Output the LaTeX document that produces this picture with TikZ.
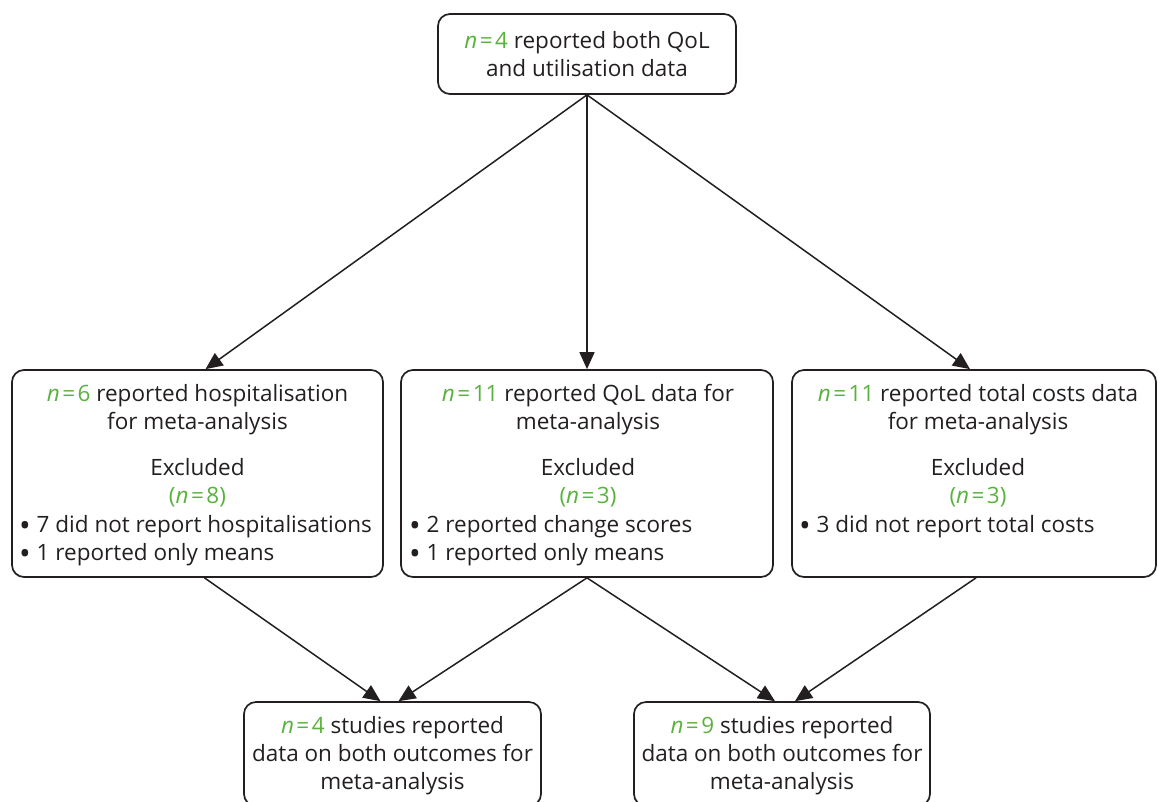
\documentclass[tikz,border=0pt]{standalone}
\usepackage{fontspec}
\setmainfont{Open Sans}
\usetikzlibrary{arrows.meta,calc}
\definecolor{ngreen}{RGB}{90,178,62}
\definecolor{txt}{RGB}{35,31,32}
\newcommand{\nn}[1]{\textcolor{ngreen}{\textit{n}\kern2.5pt=\kern2.5pt#1}}
\newcommand{\bul}{\raisebox{-4.5pt}{\fontsize{31}{31}\selectfont\textbullet}\ }
\begin{document}
\begin{tikzpicture}[x=1pt,y=-1pt,
  font=\fontsize{22.5}{27}\selectfont,
  box/.style={draw=txt, line width=1.7pt, rounded corners=12pt, inner sep=0pt},
  t/.style={anchor=base, inner sep=0pt, text=txt},
  tl/.style={anchor=base west, inner sep=0pt, text=txt},
  arr/.style={draw=txt, line width=1.5pt, -{Triangle[length=17pt,width=15pt]}}]
\useasboundingbox (0,0) rectangle (1158,801);
% boxes
\node[box, minimum width=298, minimum height=80] (top) at (587,54) {};
\node[box, minimum width=371, minimum height=207] (lb) at (197.5,473.5) {};
\node[box, minimum width=372, minimum height=207] (mb) at (587,473.5) {};
\node[box, minimum width=364, minimum height=207] (rb) at (974,473.5) {};
\node[box, minimum width=297, minimum height=104] (bl) at (392.5,754) {};
\node[box, minimum width=296, minimum height=104] (br) at (782,754) {};
% top text
\node[t] (top1) at (587,48) {\nn{4} reported both QoL};
\node[t] (top2) at (587,76) {and utilisation data};
% left box
\node[t] (l1) at (197.5,401) {\nn{6} reported hospitalisation};
\node[t] (l2) at (197.5,429) {for meta-analysis};
\node[t] (l3) at (197.5,475) {Excluded};
\node[t] (l4) at (197.5,503) {\textcolor{ngreen}{(\textit{n}\kern2.5pt=\kern2.5pt8)}};
\node[tl] (l5) at (19,532) {\bul 7 did not report hospitalisations};
\node[tl] (l6) at (19,560) {\bul 1 reported only means};
% middle box
\node[t] (m1) at (588,401) {\nn{11} reported QoL data for};
\node[t] (m2) at (588,429) {meta-analysis};
\node[t] (m3) at (588,475) {Excluded};
\node[t] (m4) at (588,503) {\textcolor{ngreen}{(\textit{n}\kern2.5pt=\kern2.5pt3)}};
\node[tl] (m5) at (409,532) {\bul 2 reported change scores};
\node[tl] (m6) at (409,560) {\bul 1 reported only means};
% right box
\node[t] (r1) at (978,401) {\nn{11} reported total costs data};
\node[t] (r2) at (978,429) {for meta-analysis};
\node[t] (r3) at (978,475) {Excluded};
\node[t] (r4) at (978,503) {\textcolor{ngreen}{(\textit{n}\kern2.5pt=\kern2.5pt3)}};
\node[tl] (r5) at (799,532) {\bul 3 did not report total costs};
% bottom left
\node[t] (b1) at (392.5,733) {\nn{4} studies reported};
\node[t] (b2) at (392.5,761) {data on both outcomes for};
\node[t] (b3) at (392.5,789) {meta-analysis};
% bottom right
\node[t] (c1) at (782,733) {\nn{9} studies reported};
\node[t] (c2) at (782,761) {data on both outcomes for};
\node[t] (c3) at (782,789) {meta-analysis};
% arrows
\draw[arr] (top.south) -- ([xshift=8pt]lb.north);
\draw[arr] (top.south) -- (mb.north);
\draw[arr] (top.south) -- ([xshift=-4pt]rb.north);
\draw[arr] ([xshift=7pt]lb.south) -- ([xshift=-12pt]bl.north);
\draw[arr] (mb.south) -- ([xshift=6pt]bl.north);
\draw[arr] (mb.south) -- ([xshift=-7pt]br.north);
\draw[arr] ([xshift=2pt]rb.south) -- ([xshift=13pt]br.north);
\end{tikzpicture}
\end{document}
